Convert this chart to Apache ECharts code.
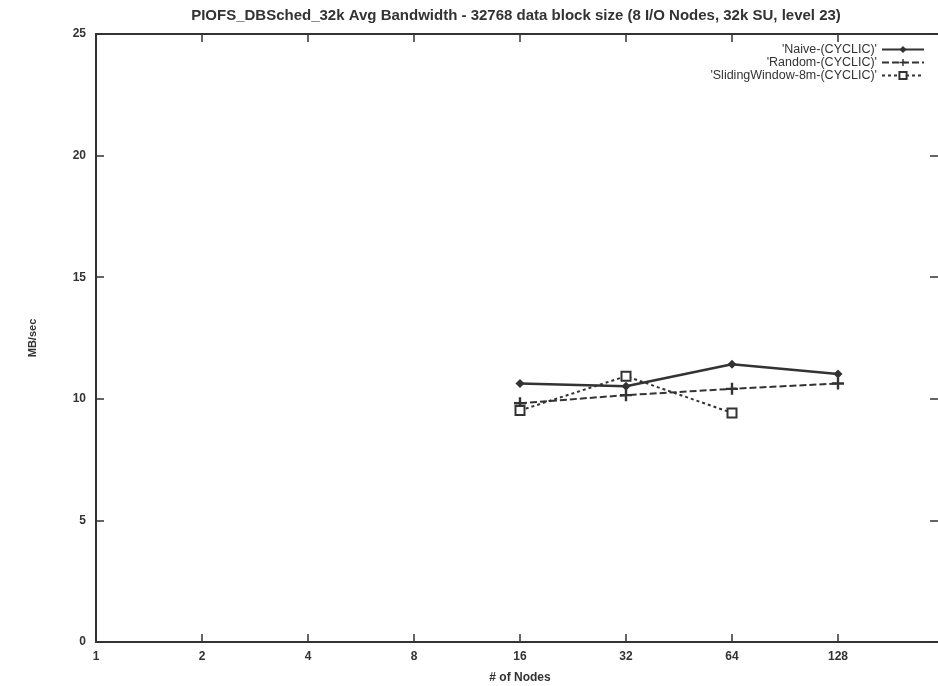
<!DOCTYPE html>
<html>
<head>
<meta charset="utf-8">
<script src="https://cdn.jsdelivr.net/npm/echarts@6/dist/echarts.min.js"></script>
<style>
  html, body { margin: 0; padding: 0; background: #fff; }
  #chart { width: 938px; height: 686px; }
</style>
</head>
<body>
<div id="chart"></div>
<script>
// Average bandwidth (MB/sec) against number of compute nodes
const nodes = [16, 32, 64, 128];
const naive = [10.63, 10.52, 11.42, 11.02];
const random = [9.82, 10.15, 10.41, 10.63];
const slidingNodes = [16, 32, 64];
const sliding = [9.52, 10.93, 9.42];
const seriesNames = ["'Naive-(CYCLIC)'", "'Random-(CYCLIC)'", "'SlidingWindow-8m-(CYCLIC)'"];
const xTicks = [1, 2, 4, 8, 16, 32, 64, 128];

const ink = '#333';
const font = 'Liberation Sans, Arial, sans-serif';

const pairs = (xs, ys) => xs.map((x, i) => [x, ys[i]]);
const plusPath = 'path://M4,0H6V4H10V6H6V10H4V6H0V4H4Z';

const baseX = {
  type: 'log', logBase: 2, min: 1, max: 256, splitNumber: 8,
  axisLine: { show: true, onZero: false, lineStyle: { color: ink, width: 2 } },
  axisTick: { show: true, inside: true, length: 8, lineStyle: { color: ink, width: 1.5 } },
  splitLine: { show: false },
  minorTick: { show: false }
};
const baseY = {
  type: 'value', min: 0, max: 25, interval: 5,
  axisLine: { show: true, onZero: false, lineStyle: { color: ink, width: 2 } },
  axisTick: { show: true, inside: true, length: 8, lineStyle: { color: ink, width: 1.5 } },
  splitLine: { show: false }
};

const chart = echarts.init(document.getElementById('chart'));
chart.setOption({
  animation: false,
  backgroundColor: '#fff',
  title: {
    text: 'PIOFS_DBSched_32k Avg Bandwidth - 32768 data block size (8 I/O Nodes, 32k SU, level 23)',
    left: 511, top: 3, textAlign: 'center',
    textStyle: { fontFamily: font, fontSize: 15, fontWeight: 'bold', color: ink }
  },
  legend: {
    right: 8, top: 38, orient: 'vertical', align: 'right',
    itemWidth: 42, itemHeight: 9, itemGap: 0,
    textStyle: { fontFamily: font, fontSize: 12.5, color: ink, lineHeight: 11 },
    data: seriesNames
  },
  // the right-hand frame edge sits just past the page edge
  grid: { left: 96, top: 34, bottom: 44, width: 848, outerBoundsMode: 'none', containLabel: false },
  xAxis: [
    Object.assign({}, baseX, {
      position: 'bottom',
      name: '# of Nodes', nameLocation: 'middle', nameGap: 30,
      nameTextStyle: { fontFamily: font, fontSize: 12, fontWeight: 'bold', color: ink },
      axisLabel: {
        fontFamily: font, fontSize: 12, fontWeight: 'bold', color: ink, margin: 9,
        formatter: v => (xTicks.indexOf(Math.round(v)) >= 0 ? String(Math.round(v)) : '')
      }
    }),
    Object.assign({}, baseX, { position: 'top', axisLabel: { show: false } })
  ],
  yAxis: [
    Object.assign({}, baseY, {
      position: 'left',
      name: 'MB/sec', nameLocation: 'middle', nameGap: 58, nameRotate: 90,
      nameTextStyle: { fontFamily: font, fontSize: 11, fontWeight: 'bold', color: ink },
      axisLabel: { fontFamily: font, fontSize: 12, fontWeight: 'bold', color: ink, margin: 10 }
    }),
    Object.assign({}, baseY, {
      position: 'right', axisLabel: { show: false },
      axisTick: { show: true, inside: true, length: 14, lineStyle: { color: ink, width: 1.5 } }
    })
  ],
  series: [
    {
      name: seriesNames[0], type: 'line', data: pairs(nodes, naive),
      symbol: 'diamond', symbolSize: 9,
      lineStyle: { color: ink, width: 2.5, type: 'solid' },
      itemStyle: { color: ink }
    },
    {
      name: seriesNames[1], type: 'line', data: pairs(nodes, random),
      symbol: plusPath, symbolSize: 12,
      lineStyle: { color: ink, width: 2, type: [7, 3] },
      itemStyle: { color: ink }
    },
    {
      name: seriesNames[2], type: 'line', data: pairs(slidingNodes, sliding),
      symbol: 'rect', symbolSize: 9,
      lineStyle: { color: ink, width: 2, type: [3, 3] },
      itemStyle: { color: '#fff', borderColor: ink, borderWidth: 2 }
    }
  ]
});
</script>
</body>
</html>
